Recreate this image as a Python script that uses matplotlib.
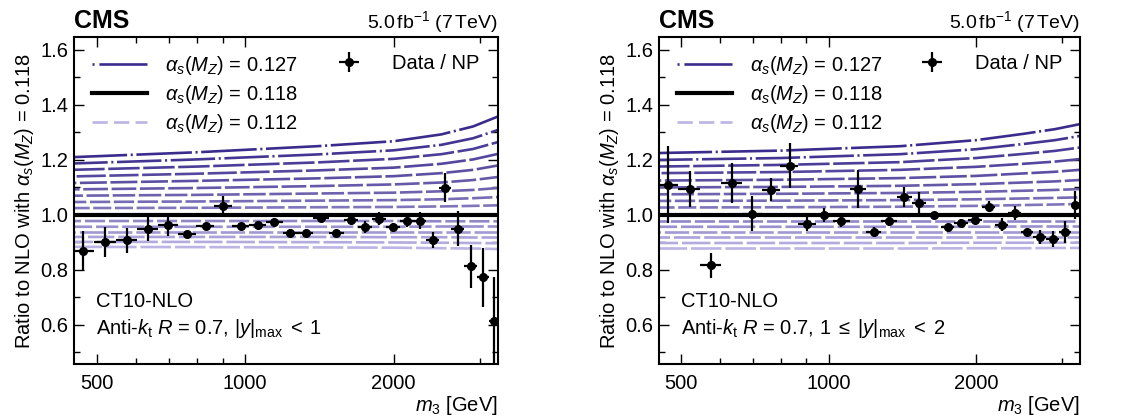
import matplotlib
matplotlib.use("Agg")
import matplotlib.pyplot as plt
from matplotlib.lines import Line2D
from matplotlib.ticker import FixedLocator, NullFormatter, FixedFormatter, MultipleLocator
import numpy as np

plt.rcParams['font.family'] = ['Liberation Sans', 'DejaVu Sans']
plt.rcParams['mathtext.fontset'] = 'custom'
plt.rcParams['mathtext.rm'] = 'Liberation Sans'
plt.rcParams['mathtext.it'] = 'Liberation Sans:italic'
plt.rcParams['mathtext.bf'] = 'Liberation Sans:bold'
plt.rcParams['lines.scale_dashes'] = False

# ---------------- data ----------------
m3_edges = [445, 493, 547, 604, 666, 731, 797, 867, 940, 1019, 1103, 1191, 1281,
            1376, 1480, 1584, 1693, 1807, 1927, 2058, 2191, 2329, 2470, 2620,
            2784, 2952, 3123, 3255]

ratio_y0 = [0.868, 0.902, 0.908, 0.950, 0.965, 0.932, 0.958, 1.033, 0.961, 0.965,
            0.976, 0.936, 0.935, 0.989, 0.936, 0.981, 0.955, 0.987, 0.955, 0.979,
            0.979, 0.908, 1.099, 0.950, 0.813, 0.773, 0.613]
err_y0 = [0.072, 0.055, 0.045, 0.045, 0.040, 0.010, 0.012, 0.035, 0.010, 0.010,
          0.010, 0.012, 0.008, 0.012, 0.008, 0.012, 0.022, 0.022, 0.016, 0.023,
          0.030, 0.030, 0.053, 0.064, 0.078, 0.106, 0.160]

ratio_y1 = [1.109, 1.095, 0.817, 1.115, 1.005, 1.091, 1.179, 0.968, 0.999, 0.977,
            1.095, 0.938, 0.979, 1.064, 1.045, 0.999, 0.956, 0.971, 0.981, 1.030,
            0.965, 1.007, 0.938, 0.919, 0.913, 0.938, 1.036]
err_y1 = [0.140, 0.065, 0.045, 0.073, 0.065, 0.042, 0.082, 0.027, 0.025, 0.020,
          0.070, 0.018, 0.018, 0.036, 0.040, 0.008, 0.010, 0.015, 0.010, 0.020,
          0.025, 0.025, 0.015, 0.025, 0.030, 0.040, 0.050]

alphas = [0.112, 0.113, 0.114, 0.115, 0.116, 0.117, 0.118, 0.119, 0.120, 0.121,
          0.122, 0.123, 0.124, 0.125, 0.126, 0.127]
m_grid = [445, 800, 1400, 2000, 2500, 2900, 3255]

theory0 = [
    [0.884, 0.883, 0.882, 0.881, 0.879, 0.878, 0.876],
    [0.902, 0.902, 0.901, 0.900, 0.899, 0.898, 0.897],
    [0.920, 0.920, 0.920, 0.919, 0.919, 0.918, 0.918],
    [0.938, 0.938, 0.938, 0.938, 0.938, 0.938, 0.938],
    [0.957, 0.957, 0.957, 0.957, 0.958, 0.958, 0.958],
    [0.978, 0.978, 0.978, 0.978, 0.977, 0.977, 0.977],
    [1.000, 1.000, 1.000, 1.000, 1.000, 1.000, 1.000],
    [1.025, 1.026, 1.028, 1.029, 1.031, 1.033, 1.035],
    [1.047, 1.049, 1.052, 1.054, 1.057, 1.061, 1.065],
    [1.070, 1.073, 1.078, 1.081, 1.086, 1.091, 1.098],
    [1.093, 1.098, 1.105, 1.111, 1.118, 1.127, 1.138],
    [1.116, 1.124, 1.133, 1.141, 1.152, 1.164, 1.180],
    [1.140, 1.150, 1.162, 1.172, 1.186, 1.202, 1.222],
    [1.164, 1.176, 1.191, 1.204, 1.221, 1.240, 1.265],
    [1.187, 1.202, 1.220, 1.235, 1.255, 1.279, 1.309],
    [1.210, 1.228, 1.250, 1.268, 1.293, 1.322, 1.358],
]
theory1 = [
    [0.878, 0.878, 0.878, 0.879, 0.879, 0.880, 0.880],
    [0.898, 0.898, 0.898, 0.899, 0.899, 0.899, 0.899],
    [0.918, 0.918, 0.918, 0.918, 0.918, 0.918, 0.918],
    [0.938, 0.938, 0.938, 0.938, 0.938, 0.938, 0.938],
    [0.957, 0.957, 0.957, 0.957, 0.958, 0.958, 0.958],
    [0.978, 0.978, 0.978, 0.978, 0.978, 0.978, 0.978],
    [1.000, 1.000, 1.000, 1.000, 1.000, 1.000, 1.000],
    [1.027, 1.028, 1.030, 1.033, 1.036, 1.038, 1.040],
    [1.051, 1.052, 1.054, 1.057, 1.060, 1.062, 1.064],
    [1.075, 1.077, 1.080, 1.084, 1.088, 1.091, 1.094],
    [1.100, 1.102, 1.106, 1.112, 1.118, 1.122, 1.127],
    [1.125, 1.128, 1.134, 1.142, 1.151, 1.157, 1.164],
    [1.152, 1.156, 1.164, 1.175, 1.186, 1.194, 1.203],
    [1.176, 1.182, 1.192, 1.207, 1.222, 1.233, 1.245],
    [1.200, 1.207, 1.221, 1.239, 1.258, 1.272, 1.287],
    [1.225, 1.234, 1.250, 1.272, 1.295, 1.312, 1.330],
]

panel_text = [r"Anti-$k_\mathrm{t}$ $R$ = 0.7, $|y|_\mathrm{max}\;<\;1$",
              r"Anti-$k_\mathrm{t}$ $R$ = 0.7, $1\;\leq\;|y|_\mathrm{max}\;<\;2$"]
x_ticks = [500, 1000, 2000]
x_minor = [600, 700, 800, 900, 3000]

# ---------------- styles ----------------
dark = np.array([0x3a, 0x2c, 0x8c]) / 255.0
light = np.array([0xbb, 0xb4, 0xe4]) / 255.0
FS = 14.5


def color_for(i):
    t = (alphas[i] - 0.112) / (0.127 - 0.112)
    return tuple(light + (dark - light) * t)


def dashes_for(i):
    a = alphas[i]
    if a > 0.118:
        k = i - 7  # 0..8
        if k == 8:
            return (0, (40, 2.6, 1.5, 2.6))
        if k == 7:
            return (6, (32, 2.6, 1.5, 2.6))
        L = 13 + 1.6 * k
        return (k * 4.0, (L, 2.6))
    k = i  # 0..5
    L = 22 - 1.5 * k
    return (k * 5.0, (L, 2.8))


fig = plt.figure(figsize=(11.4, 4.16), dpi=100)
ax_pos = [[0.0649, 0.125, 0.3719, 0.786], [0.578, 0.125, 0.369, 0.786]]

ydata = [ratio_y0, ratio_y1]
yerrs = [err_y0, err_y1]
theories = [theory0, theory1]

edges = np.array(m3_edges, dtype=float)
centers = 0.5 * (edges[:-1] + edges[1:])
xerr = [centers - edges[:-1], edges[1:] - centers]

for p in range(2):
    ax = fig.add_axes(ax_pos[p])
    ax.set_xscale('log')
    ax.set_xlim(450, 3255)
    ax.set_ylim(0.458, 1.647)

    th = theories[p]
    for i, a in enumerate(alphas):
        if a == 0.118:
            continue
        ax.plot(m_grid, th[i], color=color_for(i), lw=1.9,
                linestyle=dashes_for(i), solid_capstyle='butt',
                dash_capstyle='butt', zorder=2)
    ax.plot(m_grid, th[6], color='black', lw=3.0, zorder=3)

    ax.errorbar(centers, ydata[p], yerr=yerrs[p], xerr=xerr, fmt='o',
                color='black', ms=5.5, elinewidth=1.6, capsize=0, zorder=5)

    ax.xaxis.set_major_locator(FixedLocator(x_ticks))
    ax.xaxis.set_major_formatter(FixedFormatter([str(v) for v in x_ticks]))
    ax.xaxis.set_minor_locator(FixedLocator(x_minor))
    ax.xaxis.set_minor_formatter(NullFormatter())
    ax.yaxis.set_major_locator(MultipleLocator(0.2))
    ax.yaxis.set_minor_locator(MultipleLocator(0.1))
    ax.tick_params(which='both', direction='in', top=True, right=True,
                   labelsize=FS, width=1.0)
    ax.tick_params(which='major', length=7)
    ax.tick_params(which='minor', length=4)
    ax.tick_params(axis='x', pad=7)
    ax.tick_params(axis='y', pad=4)
    for s in ax.spines.values():
        s.set_linewidth(1.5)

    ax.set_ylabel(r"Ratio to NLO with $\alpha_s(M_Z)$ = 0.118", fontsize=FS,
                  labelpad=3)
    ax.set_xlabel(r"$m_3$ [GeV]", fontsize=FS, loc='right', labelpad=1)

    ax.text(0.0, 1.027, "CMS", transform=ax.transAxes, fontsize=18,
            fontweight='bold', va='baseline', ha='left')
    ax.text(1.0, 1.027, r"5.0$\,$fb$^{-1}$ (7$\,$TeV)", transform=ax.transAxes,
            fontsize=14, va='baseline', ha='right')

    ax.text(0.052, 0.19, "CT10-NLO", transform=ax.transAxes, fontsize=FS,
            va='center', ha='left')
    ax.text(0.052, 0.11, panel_text[p], transform=ax.transAxes, fontsize=FS,
            va='center', ha='left')

    h127 = Line2D([], [], color=color_for(15), lw=1.9,
                  linestyle=(0, (1.5, 3.5, 36, 3.5)))
    h118 = Line2D([], [], color='black', lw=3.0)
    h112 = Line2D([], [], color=color_for(0), lw=1.9,
                  linestyle=(0, (11, 4.5)))
    leg1 = ax.legend([h127, h118, h112],
                     [r"$\alpha_s(M_Z)$ = 0.127", r"$\alpha_s(M_Z)$ = 0.118",
                      r"$\alpha_s(M_Z)$ = 0.112"],
                     loc='upper left', bbox_to_anchor=(0.042, 0.947),
                     frameon=False, fontsize=FS, borderpad=0,
                     borderaxespad=0, handlelength=2.75, handletextpad=0.9,
                     labelspacing=0.3)
    ax.add_artist(leg1)

    hd = ax.errorbar([], [], yerr=[], xerr=[], fmt='o', color='black', ms=5.5,
                     elinewidth=1.6, capsize=0)
    ax.legend([hd], ["Data / NP"], loc='upper left',
              bbox_to_anchor=(0.592, 0.947), frameon=False, fontsize=FS,
              borderpad=0, borderaxespad=0, handlelength=2.35,
              handletextpad=1.0)

fig.savefig("out.png", dpi=100)
